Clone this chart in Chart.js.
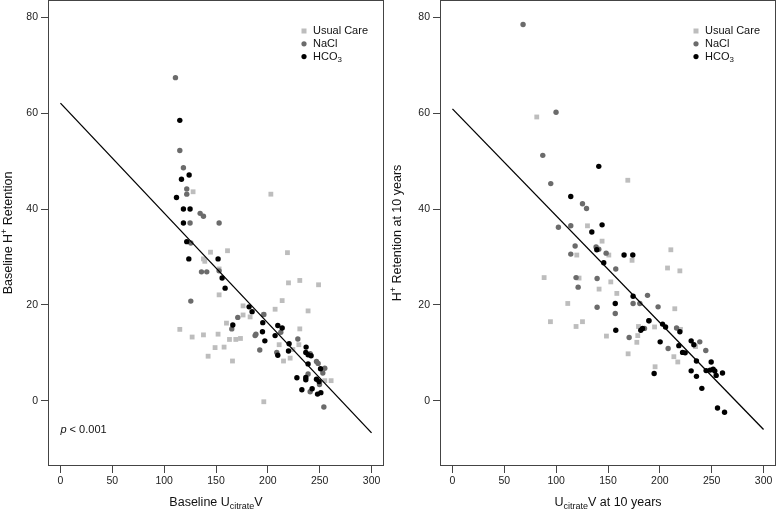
<!DOCTYPE html>
<html>
<head>
<meta charset="utf-8">
<script src="https://cdn.jsdelivr.net/npm/chart.js@4"></script>
<style>
  body { margin: 0; background: #fff; }
  .panel { position: absolute; top: 0; height: 510px; }
</style>
</head>
<body>
<div class="panel" style="left:0;width:388px"><canvas id="baseChart"></canvas></div>
<div class="panel" style="left:388px;width:389px"><canvas id="tenChart"></canvas></div>
<script>
// tick values shared by both panels
var xTicks = [0, 50, 100, 150, 200, 250, 300];
var yTicks = [0, 20, 40, 60, 80];

// baseline panel
var baseUsualX = [127.9,202.9,144.7,161.1,218.9,137.9,139.2,219.9,230.8,248.9,153.0,213.8,153.0,115.1,127.0,137.9,152.0,142.4,149.1,157.8,160.1,163.0,169.1,173.6,165.9,176.1,176.1,182.9,196.1,196.1,207.0,210.9,215.1,221.5,224.1,229.9,230.8,238.8,261.0,254.9];
var baseUsualY = [43.6,43.1,31.0,31.3,30.9,29.6,29.1,24.6,25.1,24.2,22.1,20.9,27.5,14.9,13.3,13.75,13.9,9.3,11.1,11.2,16.2,12.8,12.8,13.0,8.3,19.8,17.9,17.5,18.0,-0.2,19.1,11.7,8.3,8.9,10.7,11.7,15.0,18.75,4.2,4.2];
var baseNaclX = [110.9,115.1,118.6,121.8,121.8,134.7,137.9,125.0,153.0,125.7,136.0,141.1,153.0,125.7,165.2,171.0,187.7,188.5,192.2,196.1,212.5,208.6,228.9,240.8,238.8,240.8,246.9,248.5,249.8,253.0,254.9,254.0];
var baseNaclY = [67.4,52.2,48.6,44.2,43.1,39.1,38.5,37.1,37.1,32.9,26.9,26.9,27.1,20.8,15.0,17.4,13.6,13.9,10.6,18.0,14.3,10.1,12.9,9.8,5.6,1.9,8.2,7.8,3.4,5.8,6.8,-1.3];
var baseHco3X = [115.1,124.1,116.7,111.9,118.6,125.0,118.6,121.8,123.8,152.0,155.9,158.8,166.2,181.9,184.8,195.1,194.8,197.1,207.0,209.6,213.8,209.6,220.5,219.9,228.0,232.8,236.9,236.6,238.8,241.7,238.8,236.6,236.6,242.7,246.9,249.4,247.9,251.1,250.8];
var baseHco3Y = [58.5,47.1,46.2,42.4,40.0,40.0,37.1,33.2,29.6,29.6,25.6,23.5,15.8,19.6,18.6,16.3,14.4,12.5,13.6,15.7,15.2,9.5,11.9,10.4,4.8,2.3,11.2,10.1,9.6,9.4,7.7,4.85,4.4,2.5,4.5,4.0,1.4,1.7,6.7];
var baseFitX = [0, 300];
var baseFitY = [62.1, -6.7];

// 10 year panel
var tenUsualX = [81.3,169.1,130.2,144.3,210.6,119.9,150.8,173.2,207.4,219.3,88.4,122.1,141.4,158.5,152.7,111.2,214.4,94.5,125.4,119.2,179.4,194.9,219.9,148.5,178.7,177.8,169.4,213.5,217.3,234.4,195.4];
var tenUsualY = [59.2,46.0,36.5,33.3,31.5,30.4,30.4,29.3,27.7,27.1,25.7,25.6,23.3,22.4,24.8,20.3,19.2,16.5,16.5,15.5,15.5,15.4,14.9,13.5,13.6,12.2,9.8,9.2,8.1,11.3,7.1];
var tenNaclX = [68.1,99.9,87.1,94.8,125.4,129.3,102.2,114.1,118.3,138.5,141.1,114.1,148.2,157.5,119.2,139.5,121.2,188.1,174.2,180.7,198.3,139.5,157.0,189.6,185.2,216.1,170.4,208.0,238.5,244.3];
var tenNaclY = [78.5,60.2,51.2,45.3,41.1,40.1,36.2,36.5,32.3,32.1,31.6,30.6,30.8,27.5,25.7,25.5,23.7,22.0,20.3,20.3,19.6,19.5,18.2,16.7,15.1,15.2,13.2,10.9,12.3,10.5];
var tenHco3X = [141.1,114.1,144.3,134.4,139.2,165.5,173.9,145.9,174.2,157.0,157.5,189.4,181.6,183.3,202.6,205.5,219.3,200.3,218.3,221.9,224.4,230.2,232.8,235.3,249.5,230.2,235.3,244.6,248.5,251.4,253.0,254.3,260.4,194.5,240.5,255.6,262.4];
var tenHco3Y = [48.9,42.6,36.7,35.2,31.5,30.4,30.4,28.8,21.8,20.3,14.7,16.7,14.7,15.1,16.0,15.4,14.4,12.3,11.5,10.1,10.0,12.5,11.7,8.3,8.1,6.25,5.1,6.3,6.4,6.6,6.2,5.3,5.8,5.7,2.6,-1.5,-2.4];
var tenFitX = [0, 300];
var tenFitY = [60.9, -6.0];

var groupNames = ["Usual Care", "NaCl", "HCO3"];
var groupColors = ["#bdbdbd", "#6b6b6b", "#000000"];
var groupShapes = ["rect", "circle", "circle"];

var FONT = '"Liberation Sans", Arial, Helvetica, sans-serif';

function pts(xs, ys) {
  return xs.map(function (x, i) { return { x: x, y: ys[i] }; });
}

// draws text pieces like [["H",""],["+","sup"]] centred or left aligned
function drawRich(ctx, segs, x, y, size, align, rot) {
  ctx.save();
  ctx.translate(x, y);
  if (rot) ctx.rotate(rot);
  ctx.textBaseline = "middle";
  ctx.textAlign = "left";
  ctx.fillStyle = "#111";
  function fontFor(k) {
    var s = (k === "sub" || k === "sup") ? size * 0.72 : size;
    return (k === "it" ? "italic " : "") + s + "px " + FONT;
  }
  var total = 0;
  segs.forEach(function (s) { ctx.font = fontFor(s[1]); total += ctx.measureText(s[0]).width; });
  var cx = align === "center" ? -total / 2 : 0;
  segs.forEach(function (s) {
    ctx.font = fontFor(s[1]);
    var dy = s[1] === "sub" ? size * 0.3 : (s[1] === "sup" ? -size * 0.38 : 0);
    ctx.fillText(s[0], cx, dy);
    cx += ctx.measureText(s[0]).width;
  });
  ctx.restore();
}

var legendSegs = [[["Usual Care", ""]], [["NaCl", ""]], [["HCO", ""], ["3", "sub"]]];

function makeChart(id, data, opts) {
  var decor = {
    id: "decor",
    afterDraw: function (chart) {
      var ctx = chart.ctx, a = chart.chartArea;
      ctx.save();
      ctx.strokeStyle = "#444";
      ctx.lineWidth = 1;
      ctx.strokeRect(a.left + 0.5, a.top + 0.5, a.right - a.left - 1, a.bottom - a.top - 1);
      ctx.restore();
      // legend
      for (var i = 0; i < 3; i++) {
        var ly = a.top + 31 + i * 12.8;
        var lx = a.right - 80;
        ctx.fillStyle = groupColors[i];
        if (groupShapes[i] === "rect") {
          ctx.fillRect(lx - 2.5, ly - 2.5, 5, 5);
        } else {
          ctx.beginPath(); ctx.arc(lx, ly, 2.6, 0, Math.PI * 2); ctx.fill();
        }
        drawRich(ctx, legendSegs[i], a.right - 71, ly, 11, "left");
      }
      // axis titles
      drawRich(ctx, opts.xTitle, (a.left + a.right) / 2, 503, 12.5, "center");
      drawRich(ctx, opts.yTitle, opts.yTitleX, (a.top + a.bottom) / 2, 12.5, "center", -Math.PI / 2);
      if (opts.note) drawRich(ctx, opts.note, chart.scales.x.getPixelForValue(0), 430, 11, "left");
    }
  };

  return new Chart(document.getElementById(id), {
    type: "scatter",
    data: {
      datasets: [
        { label: groupNames[0], data: pts(data.usualX, data.usualY), pointStyle: "rect", pointRadius: 3.4,
          backgroundColor: groupColors[0], borderWidth: 0, order: 3 },
        { label: groupNames[1], data: pts(data.naclX, data.naclY), pointStyle: "circle", pointRadius: 2.7,
          backgroundColor: groupColors[1], borderWidth: 0, order: 2 },
        { label: groupNames[2], data: pts(data.hco3X, data.hco3Y), pointStyle: "circle", pointRadius: 2.7,
          backgroundColor: groupColors[2], borderWidth: 0, order: 1 },
        { type: "line", label: "fit", data: pts(data.fitX, data.fitY), showLine: true, pointRadius: 0,
          borderColor: "#000", borderWidth: 1.3, fill: false, order: 0 }
      ]
    },
    options: {
      responsive: true,
      maintainAspectRatio: false,
      animation: false,
      events: [],
      layout: { autoPadding: false, padding: { top: 0, right: opts.padRight, left: 0, bottom: 0 } },
      plugins: { legend: { display: false }, tooltip: { enabled: false } },
      scales: {
        x: {
          type: "linear", min: -12, max: 312,
          afterBuildTicks: function (s) { s.ticks = xTicks.map(function (v) { return { value: v }; }); },
          afterFit: function (s) { s.height = 44; s.paddingLeft = 0; s.paddingRight = 0; },
          grid: { drawOnChartArea: false, drawTicks: true, tickLength: 7, tickColor: "#444" },
          border: { display: false },
          ticks: { padding: 2, color: "#222", font: { family: FONT, size: 10.5 }, maxRotation: 0 }
        },
        y: {
          type: "linear", min: -13.6, max: 83.6,
          afterBuildTicks: function (s) { s.ticks = yTicks.map(function (v) { return { value: v }; }); },
          afterFit: function (s) { s.width = opts.yWidth; s.paddingTop = 0; s.paddingBottom = 0; },
          grid: { drawOnChartArea: false, drawTicks: true, tickLength: 7, tickColor: "#444" },
          border: { display: false },
          ticks: { padding: 3, color: "#222", font: { family: FONT, size: 10.5 } }
        }
      }
    },
    plugins: [decor]
  });
}

makeChart("baseChart", {
  usualX: baseUsualX, usualY: baseUsualY, naclX: baseNaclX, naclY: baseNaclY,
  hco3X: baseHco3X, hco3Y: baseHco3Y, fitX: baseFitX, fitY: baseFitY
}, {
  yWidth: 48, padRight: 4, yTitleX: 9,
  xTitle: [["Baseline U", ""], ["citrate", "sub"], ["V", ""]],
  yTitle: [["Baseline H", ""], ["+", "sup"], [" Retention", ""]],
  note: [["p", "it"], [" < 0.001", ""]]
});

makeChart("tenChart", {
  usualX: tenUsualX, usualY: tenUsualY, naclX: tenNaclX, naclY: tenNaclY,
  hco3X: tenHco3X, hco3Y: tenHco3Y, fitX: tenFitX, fitY: tenFitY
}, {
  yWidth: 52, padRight: 1, yTitleX: 10,
  xTitle: [["U", ""], ["citrate", "sub"], ["V at 10 years", ""]],
  yTitle: [["H", ""], ["+", "sup"], [" Retention at 10 years", ""]]
});
</script>
</body>
</html>
